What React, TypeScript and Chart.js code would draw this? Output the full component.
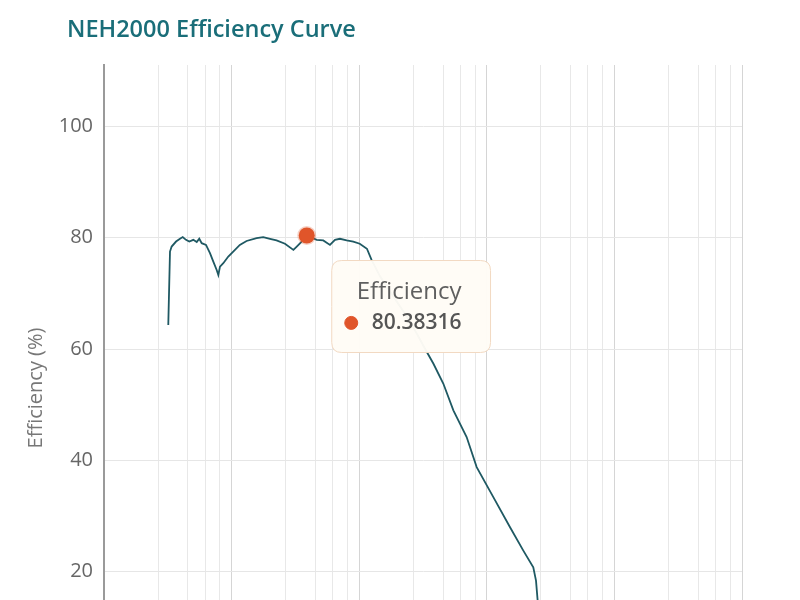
import { useEffect, useRef } from 'react'
import { Chart, registerables, Tooltip } from 'chart.js'

Chart.register(...registerables)

// input level (log axis) vs efficiency
const inputLevel = [
  3.19, 3.29, 3.39, 3.67, 3.94, 4.14, 4.39, 4.66, 5.01, 5.33, 5.58, 5.83, 6.3, 6.77, 7.19, 7.64, 7.87, 8.11,
  8.61, 9.42, 10.3, 11.6, 13.1, 15.7, 17.7, 20, 22.5, 26.2, 30.5, 32.4, 35.4, 38.8, 46.5, 52.3, 59, 64.6, 70.7,
  79.8, 89.9, 101, 115, 125, 146, 191, 250, 338, 381, 456, 547, 695, 833, 1125, 1521, 1933, 2314, 2430, 2520,
  2612, 2710,
]
const efficiency = [
  64.3, 77.5, 78.4, 79.3, 79.8, 80.1, 79.6, 79.3, 79.6, 79.2, 79.8, 79.0, 78.7, 77.2, 75.7, 74.2, 73.3, 74.8,
  75.4, 76.6, 77.5, 78.7, 79.4, 79.9, 80.1, 79.8, 79.5, 78.9, 77.8, 78.4, 79.3, 80.38316, 79.6, 79.5, 78.7, 79.6,
  79.8, 79.5, 79.3, 78.9, 78.0, 76.0, 73.0, 69.0, 65.0, 59.5, 57.4, 53.8, 49.0, 44.2, 38.8, 33.4, 28.0, 23.8,
  20.8, 18.4, 14.0, 9.0, 5.0,
]
const yTicks = [0, 20, 40, 60, 80, 100]
const xDecades = [1, 10, 100, 1000, 10000, 100000]
const xGridMantissas = [2.65, 4.55, 6.2, 8.1]

const highlightIndex = efficiency.indexOf(Math.max(...efficiency))

const TEAL_LINE = '#1f5963'
const ACCENT = '#e0552a'

;(Tooltip.positioners as any).besidePoint = function (items: any[]) {
  if (!items.length) return false
  const el = items[0].element
  return { x: el.x + 25, y: el.y + 71, xAlign: 'left', yAlign: 'center' }
}

function EfficiencyChart() {
  const canvasRef = useRef<HTMLCanvasElement>(null)
  const chartRef = useRef<Chart | null>(null)

  useEffect(() => {
    document.body.style.margin = '0'
    if (!canvasRef.current) return
    const ctx = canvasRef.current.getContext('2d')
    if (!ctx) return

    Chart.defaults.font.family = "'Open Sans', sans-serif"
    Chart.defaults.font.size = 20

    const gridTicks: number[] = []
    xDecades.forEach((decade, i) => {
      gridTicks.push(decade)
      if (i < xDecades.length - 1) xGridMantissas.forEach((m) => gridTicks.push(decade * m))
    })

    chartRef.current = new Chart(ctx, {
      type: 'line',
      data: {
        datasets: [
          {
            label: 'Efficiency',
            data: inputLevel.map((x, i) => ({ x, y: efficiency[i] })),
            borderColor: TEAL_LINE,
            borderWidth: 1.8,
            tension: 0,
            pointRadius: (c: any) => (c.dataIndex === highlightIndex ? 8 : 0),
            pointHoverRadius: 8,
            pointBackgroundColor: ACCENT,
            pointHoverBackgroundColor: ACCENT,
            pointBorderColor: 'rgba(224, 85, 42, 0.28)',
            pointHoverBorderColor: 'rgba(224, 85, 42, 0.28)',
            pointBorderWidth: 3,
            pointHoverBorderWidth: 3,
          },
        ],
      },
      options: {
        responsive: true,
        maintainAspectRatio: false,
        animation: false,
        events: [],
        layout: { padding: { left: 0, right: 58, top: 65, bottom: 19 } },
        plugins: {
          legend: { display: false },
          title: { display: false },
          tooltip: {
            enabled: true,
            position: 'besidePoint' as any,
            xAlign: 'left',
            yAlign: 'center',
            caretSize: 0,
            caretPadding: 0,
            backgroundColor: 'rgba(255, 252, 246, 0.97)',
            borderColor: '#f2d9c2',
            borderWidth: 1,
            cornerRadius: 10,
            padding: { top: 17, bottom: 17, left: 13, right: 29 },
            titleColor: '#5f5f5f',
            titleFont: { size: 24, weight: 'normal' },
            titleAlign: 'right',
            titleMarginBottom: 4,
            bodyColor: '#555555',
            bodyFont: { size: 21, weight: 600 },
            displayColors: true,
            usePointStyle: true,
            boxWidth: 13,
            boxHeight: 13,
            boxPadding: 12,
            callbacks: {
              title: () => 'Efficiency',
              label: (c) => String(c.parsed.y),
              labelColor: () => ({ borderColor: ACCENT, backgroundColor: ACCENT, borderWidth: 0 }),
              labelPointStyle: () => ({ pointStyle: 'circle', rotation: 0 }),
            },
          },
        },
        scales: {
          x: {
            type: 'logarithmic',
            min: xDecades[0],
            max: xDecades[xDecades.length - 1],
            afterBuildTicks: (scale) => {
              scale.ticks = gridTicks.map((value) => ({ value }))
            },
            afterFit: (scale) => {
              scale.height = 30
            },
            ticks: { display: false },
            grid: {
              drawTicks: false,
              color: (c: any) => (xDecades.includes(c.tick?.value) ? '#d5d5d5' : '#e8e8e8'),
              lineWidth: 1,
            },
            border: { display: false },
          },
          y: {
            min: -5,
            max: 111,
            afterBuildTicks: (scale) => {
              scale.ticks = yTicks.map((value) => ({ value }))
            },
            afterFit: (scale) => {
              scale.width = 104
            },
            ticks: {
              color: '#666666',
              padding: 11,
              font: { size: 20, family: "'Open Sans', sans-serif" },
            },
            grid: { drawTicks: false, color: '#e6e6e6', lineWidth: 1 },
            border: { display: true, color: '#9a9a9a', width: 2 },
            title: {
              display: true,
              text: 'Efficiency (%)',
              color: '#777777',
              font: { size: 20, family: "'Open Sans', sans-serif" },
              padding: { top: 24, bottom: 0 },
            },
          },
        },
      },
    })

    const chart = chartRef.current
    chart.setActiveElements([{ datasetIndex: 0, index: highlightIndex }])
    chart.tooltip?.setActiveElements([{ datasetIndex: 0, index: highlightIndex }], { x: 0, y: 0 })
    chart.update()

    return () => {
      if (chartRef.current) {
        chartRef.current.destroy()
        chartRef.current = null
      }
    }
  }, [])

  return (
    <div style={{ position: 'relative', width: 800, height: 760, background: '#ffffff' }}>
      <div
        style={{
          position: 'absolute',
          left: 67,
          top: 17,
          fontFamily: "'Open Sans', sans-serif",
          fontWeight: 600,
          fontSize: 23.5,
          lineHeight: '23.5px',
          color: '#1a6e79',
          whiteSpace: 'nowrap',
        }}
      >
        NEH2000 Efficiency Curve
      </div>
      <canvas ref={canvasRef} />
    </div>
  )
}

export default function App() {
  return <EfficiencyChart />
}
